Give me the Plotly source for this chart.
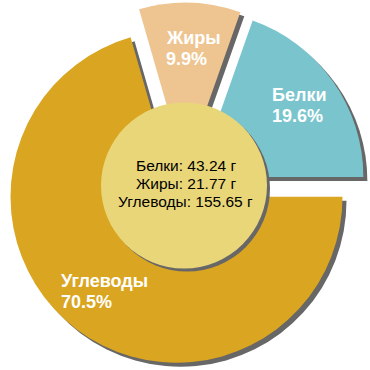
import math
import plotly.graph_objects as go

# Data
labels = ["Белки", "Жиры", "Углеводы"]
grams = [43.24, 21.77, 155.65]
colors = ["#7AC5CD", "#EEC591", "#DAA520"]
pulls = [0.095, 0.105, 0.08]
center_lines = [f"{l}: {g} г" for l, g in zip(labels, grams)]

W = H = 370
cx, cy, r = 184.5, 186.2, 166.0
SH = 4  # shadow offset px
FONT = "Liberation Sans, Arial, sans-serif"

total = sum(grams)
percents = [f"{100 * g / total:.1f}%" for g in grams]
# first slice starts at 3 o'clock and runs counterclockwise
ROT = 90 - 360 * grams[0] / total

# label placement (left x, first-line centre y, in px) per slice
label_pos = [(269.5, 95.0), (163.5, 38.0), (58.5, 281.3)]
LINE = 20.5


def dom(x, y, half):
    return dict(x=[max(0, (x - half) / W), min(1, (x + half) / W)],
                y=[max(0, (H - (y + half)) / H), min(1, (H - (y - half)) / H)])


fig = go.Figure()

# shadow slices: one trace per slice, centred on that slice's pulled centre
start = 0.0
for i, g in enumerate(grams):
    mid = math.radians(start + 360 * g / total / 2)
    start += 360 * g / total
    sx = cx + pulls[i] * r * math.cos(mid) + SH
    sy = cy - pulls[i] * r * math.sin(mid) + SH
    cols = ["rgba(0,0,0,0)"] * len(grams)
    cols[i] = "#676767"
    fig.add_trace(go.Pie(
        labels=labels, values=grams, sort=False, direction="counterclockwise",
        rotation=ROT, domain=dom(sx, sy, r),
        marker=dict(colors=cols, line=dict(width=0)),
        textinfo="none", hoverinfo="skip", showlegend=False,
    ))

# main pie
fig.add_trace(go.Pie(
    labels=labels, values=grams, sort=False, direction="counterclockwise",
    rotation=ROT, pull=pulls, domain=dom(cx, cy, r * (1 + max(pulls))),
    marker=dict(colors=colors, line=dict(width=0)),
    textinfo="none", showlegend=False,
    hovertemplate="%{label}: %{value} г<br>%{percent:.1%}<extra></extra>",
))

# slice labels
for (lx, ly), lab, pct in zip(label_pos, labels, percents):
    for k, t in enumerate([lab, pct]):
        fig.add_annotation(x=lx / W, y=(H - (ly + k * LINE)) / H,
                           xref="paper", yref="paper", xanchor="left", yanchor="middle",
                           text=f"<b>{t}</b>", showarrow=False,
                           font=dict(family=FONT, size=18, color="white"))

# central disc with shadow
cr = r / 2
ccx, ccy = 184.0, 185.5
for d, col in [(3, "#676767"), (0, "#E9D679")]:
    fig.add_shape(type="circle", xref="paper", yref="paper",
                  x0=(ccx + d - cr) / W, x1=(ccx + d + cr) / W,
                  y0=(H - (ccy + d + cr)) / H, y1=(H - (ccy + d - cr)) / H,
                  fillcolor=col, line=dict(width=0), layer="above")

for k, t in enumerate(center_lines):
    fig.add_annotation(x=185.5 / W, y=(H - (165.8 + k * 17.9)) / H,
                       xref="paper", yref="paper", xanchor="center", yanchor="middle",
                       text=t, showarrow=False,
                       font=dict(family=FONT, size=15.5, color="black"))

fig.update_layout(width=W, height=H, margin=dict(l=0, r=0, t=0, b=0),
                  paper_bgcolor="white", plot_bgcolor="white")
fig.write_html("out.html")
